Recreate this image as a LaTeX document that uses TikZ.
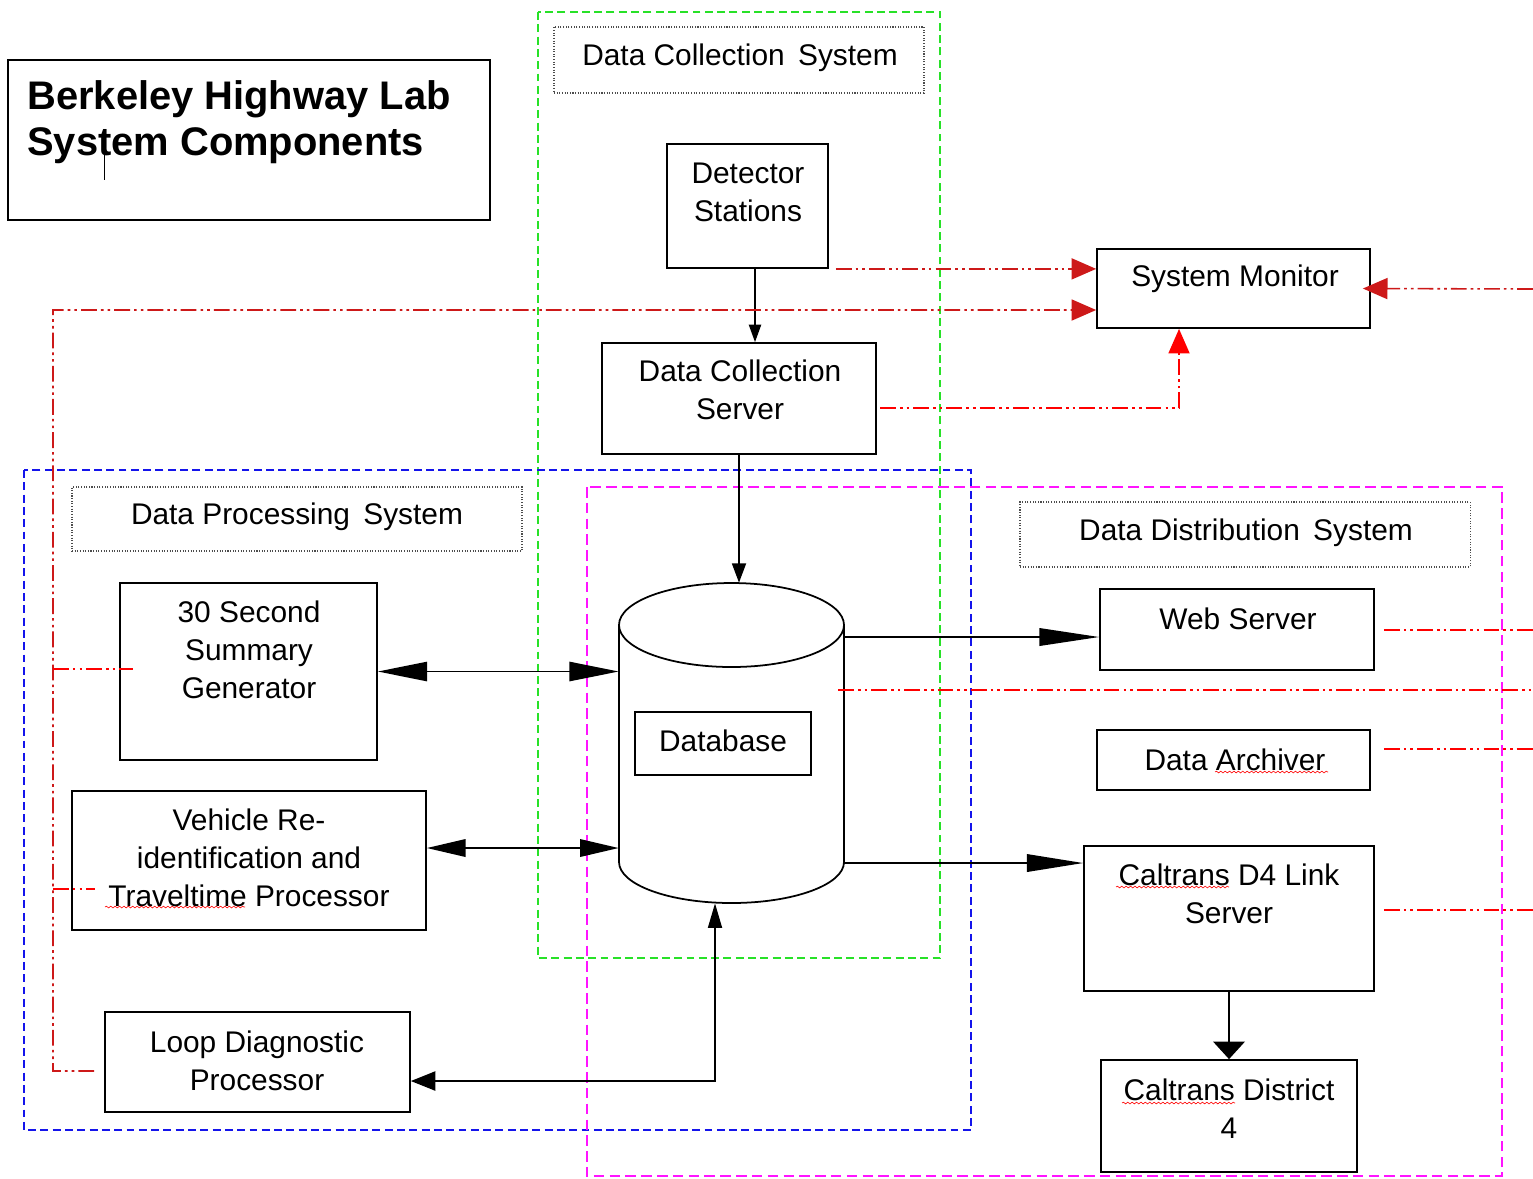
\documentclass[tikz,border=0pt]{standalone}
\usepackage{fontspec}
\setmainfont{Liberation Sans}
\usetikzlibrary{arrows.meta,fit,decorations.pathmorphing}
\definecolor{dred}{RGB}{205,25,25}
\definecolor{lgreen}{RGB}{40,225,40}
\definecolor{lblue}{RGB}{20,20,235}
\definecolor{lmag}{RGB}{255,20,255}
\begin{document}
\begin{tikzpicture}[x=0.02cm,y=-0.02cm,
  box/.style={draw,line width=1pt,inner sep=0pt},
  lblbox/.style={draw=black!70,line width=0.6pt,dash pattern=on 0.6pt off 0.9pt,inner sep=0pt},
  txt/.style={font=\fontsize{17}{21.5}\selectfont,align=center,inner sep=0pt},
  ttl/.style={font=\fontsize{22.7}{26.6}\selectfont\bfseries,align=left,inner sep=0pt},
  grp/.style={line width=1pt,dash pattern=on 4.5pt off 2.5pt},
  conn/.style={line width=0.9pt},
  bigtip/.tip={Triangle[length=28pt,width=11pt]},
  redline/.style={draw=red,line width=0.9pt,dash pattern=on 9pt off 2.3pt on 1.5pt off 2.3pt on 1.5pt off 2.3pt},
  redarr/.style={redline,-{Triangle[length=14pt,width=12pt]}},
  wavy/.style={draw=red,line width=0.35pt,decorate,decoration={snake,amplitude=0.5pt,segment length=2.5pt}}
]
\useasboundingbox (0,0) rectangle (1533,1178);
\fill[white] (0,0) rectangle (1533,1178);

% group frames
\draw[grp,draw=lgreen] (538,12) rectangle (940,958);
\draw[grp,draw=lblue] (24,470) rectangle (971,1130);
\draw[grp,draw=lmag,dash pattern=on 6pt off 3pt] (587,487) rectangle (1502,1176);

% title
\node[box,fit={(8,60) (490,220)}] (title) {};
\node[ttl,anchor=north west] (titletext) at (27,80) {Berkeley Highway Lab\\System Components};
\draw[line width=0.5pt] (104,152) -- (104,180);

% group labels
\node[lblbox,fit={(554,27) (924,93)}] (dcsl) {};
\node[txt] (dcslt) at (740,58) {Data Collection\, System};
\node[lblbox,fit={(72,487) (522,551)}] (dpsl) {};
\node[txt] (dpslt) at (297,517) {Data Processing\, System};
\node[lblbox,fit={(1020,502) (1470,567)}] (ddsl) {};
\node[txt] (ddslt) at (1246,533) {Data Distribution\, System};

% boxes
\node[box,fit={(667,144) (828,268)}] (ds) {};
\node[txt] (dst) at (748,192) {Detector\\Stations};
\node[box,fit={(602,343) (876,454)}] (dcs) {};
\node[txt] (dcst) at (740,390) {Data Collection\\Server};
\node[box,fit={(1097,249) (1370,328)}] (sm) {};
\node[txt] (smt) at (1235,279) {System Monitor};
\node[box,fit={(120,583) (377,760)}] (ssg) {};
\node[txt] (ssgt) at (249,650) {30 Second\\Summary\\Generator};
\node[box,fit={(72,791) (426,930)}] (vri) {};
\node[txt] (vrit) at (249,858) {Vehicle Re-\\identification and\\Traveltime Processor};
\node[box,fit={(105,1012) (410,1112)}] (ldp) {};
\node[txt] (ldpt) at (257,1061) {Loop Diagnostic\\Processor};
\node[box,fit={(1100,589) (1374,670)}] (ws) {};
\node[txt] (wst) at (1238,619) {Web Server};
\node[box,fit={(1097,730) (1370,790)}] (da) {};
\node[txt] (dat) at (1235,760) {Data Archiver};
\node[box,fit={(1084,846) (1374,991)}] (cd4) {};
\node[txt] (cd4t) at (1229,894) {Caltrans D4 Link\\Server};
\node[box,fit={(1101,1060) (1357,1172)}] (cd) {};
\node[txt] (cdt) at (1229,1109) {Caltrans District\\4};

% database cylinder
\node[inner sep=0pt,fit={(619,583) (844,903)}] (db) {};
\draw[line width=1pt,fill=white] (619,625) -- (619,862) arc[start angle=180,end angle=0,x radius=112.5,y radius=41] -- (844,625);
\draw[line width=1pt] (731.5,625) ellipse[x radius=112.5,y radius=42];
\node[box,fit={(635,712) (811,775)}] (dbi) {};
\node[txt] (dbt) at (723,741) {Database};

% spell-check underlines
\draw[wavy] (105,907) -- (245,907);
\draw[wavy] (1116,887) -- (1229,887);
\draw[wavy] (1122,1103) -- (1235,1103);
\draw[wavy] (1215,772) -- (1328,772);

% black connectors
\draw[conn,-{Triangle[length=10pt,width=7pt]}] ([xshift=0.15cm]ds.south) -- ([xshift=0.15cm]ds.south |- dcs.north);
\draw[conn,-{Triangle[length=11pt,width=8pt]}] (dcs.south) -- (dcs.south |- db.north);
\draw[conn,bigtip-bigtip] (ssg.east) -- (ssg.east -| db.west);
\draw[conn,{Triangle[length=22pt,width=10pt]}-{Triangle[length=22pt,width=10pt]}] ([yshift=0.25cm]vri.east) -- ([yshift=0.25cm]vri.east -| db.west);
\draw[conn,{Triangle[length=14pt,width=11pt]}-{Triangle[length=14pt,width=8pt]}] ([yshift=-0.38cm]ldp.east) -| ([xshift=-0.33cm]db.south);
\draw[conn,-{Triangle[length=34pt,width=10pt]}] ([yshift=-0.15cm]ws.west -| db.east) -- ([yshift=-0.15cm]ws.west);
\draw[conn,-{Triangle[length=32pt,width=10pt]}] ([yshift=1.11cm]cd4.west -| db.east) -- ([yshift=1.11cm]cd4.west);
\draw[conn,-{Triangle[length=10pt,width=18pt]}] (cd4.south) -- (cd.north);

% red monitoring connectors
\coordinate (redge) at (1533,0);
\coordinate (ltop) at (53,310);
\coordinate (lbot) at (53,1071);
\draw[redarr,draw=dred] ([xshift=0.14cm]ds.south east) -- (ds.south east -| sm.west);
\draw[redarr,draw=dred] ([xshift=-0.2cm,yshift=-0.18cm]ldp.west) -- (lbot) -- (ltop) -- (ltop -| sm.west);
\draw[redline] (ltop |- 0,669) -- (133,669);
\draw[redline] (ltop |- 0,889) -- (95,889);
\coordinate (dcsout) at (880,408);
\draw[redarr] (dcsout) -| ([xshift=-1.09cm]sm.south);
\draw[redarr,draw=dred] (redge |- 0,289) -- ([xshift=-0.16cm]sm.east);
\draw[redline] ([xshift=0.18cm,yshift=-0.01cm]ws.east) -- ([yshift=-0.01cm]ws.east -| redge);
\draw[redline] (838,690) -- (redge |- 0,690);
\draw[redline] ([xshift=0.26cm,yshift=0.22cm]da.east) -- ([yshift=0.22cm]da.east -| redge);
\draw[redline] ([xshift=0.18cm,yshift=0.17cm]cd4.east) -- ([yshift=0.17cm]cd4.east -| redge);
\end{tikzpicture}
\end{document}
